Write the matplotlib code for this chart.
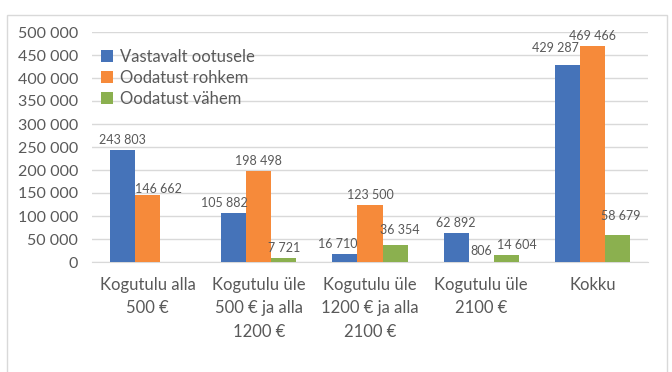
import numpy as np
import matplotlib.pyplot as plt
from matplotlib.patches import Rectangle
from matplotlib.ticker import FuncFormatter

categories = ['Kogutulu alla\n500 €', 'Kogutulu üle\n500 € ja alla\n1200 €',
              'Kogutulu üle\n1200 € ja alla\n2100 €', 'Kogutulu üle\n2100 €', 'Kokku']
series_names = ['Vastavalt ootusele', 'Oodatust rohkem', 'Oodatust vähem']
vastavalt = [243803, 105882, 16710, 62892, 429287]
rohkem = [146662, 198498, 123500, 806, 469466]
vahem = [None, 7721, 36354, 14604, 58679]

COLORS = ['#4573B9', '#F68A3A', '#8BB04F']
TEXT = '#595959'

plt.rcParams['font.family'] = ['Lato', 'DejaVu Sans']


def fmt(v):
    return f'{int(v):,}'.replace(',', ' ')


fig = plt.figure(figsize=(6.72, 3.72), dpi=100)
fig.patches.append(Rectangle((7 / 672, -0.01), 660 / 672, 1 - 15 / 372 + 0.01,
                             transform=fig.transFigure, fill=False,
                             edgecolor='#D9D9D9', linewidth=1))
ax = fig.add_axes([92 / 672, 1 - 262 / 372, 556 / 672, 230 / 372])

x = np.arange(len(categories))
w = 0.225
# label nudges in pixels (Excel moves overlapping labels a bit)
nudges = [
    [(0, 0), (-9, 0), (-7, 0), (0, 0), (-12, 6)],
    [(11, -5), (0, 0), (0, 0), (0, 0), (0, 0)],
    [(0, 0), (0, 0), (5, 5), (11, 0), (3, 9)],
]

for i, vals in enumerate([vastavalt, rohkem, vahem]):
    pos = x + (i - 1) * w
    h = [v if v is not None else 0 for v in vals]
    bars = ax.bar(pos, h, width=w, color=COLORS[i], label=series_names[i], zorder=3)
    for j, (b, v) in enumerate(zip(bars, vals)):
        if v is None:
            continue
        dx, dy = nudges[i][j]
        ax.annotate(fmt(v), (b.get_x() + b.get_width() / 2, b.get_height()),
                    xytext=(dx * 0.72, 3 + dy * 0.72), textcoords='offset points',
                    ha='center', va='bottom', fontsize=9, color=TEXT, zorder=4)

ax.set_xlim(-0.5, len(categories) - 0.5)
ax.set_ylim(0, 500000)
ax.set_yticks(np.arange(0, 500001, 50000))
ax.yaxis.set_major_formatter(FuncFormatter(lambda v, p: fmt(v)))
ax.set_xticks(x)
ax.set_xticklabels(categories, fontsize=12, color=TEXT, linespacing=1.55)
ax.tick_params(axis='y', length=0, labelsize=11.5, labelcolor=TEXT, pad=10)
ax.tick_params(axis='x', length=0, pad=11)
ax.grid(axis='y', color='#D9D9D9', linewidth=1, zorder=0)
for s in ['top', 'right', 'left']:
    ax.spines[s].set_visible(False)
ax.spines['bottom'].set_color('#D9D9D9')

leg = ax.legend(loc='upper left', bbox_to_anchor=(0.005, 0.955), frameon=False,
                fontsize=12, handlelength=0.7, handleheight=0.7, handletextpad=0.4,
                labelspacing=0.3, borderaxespad=0)
for t in leg.get_texts():
    t.set_color(TEXT)

fig.savefig('out.png', dpi=100)
